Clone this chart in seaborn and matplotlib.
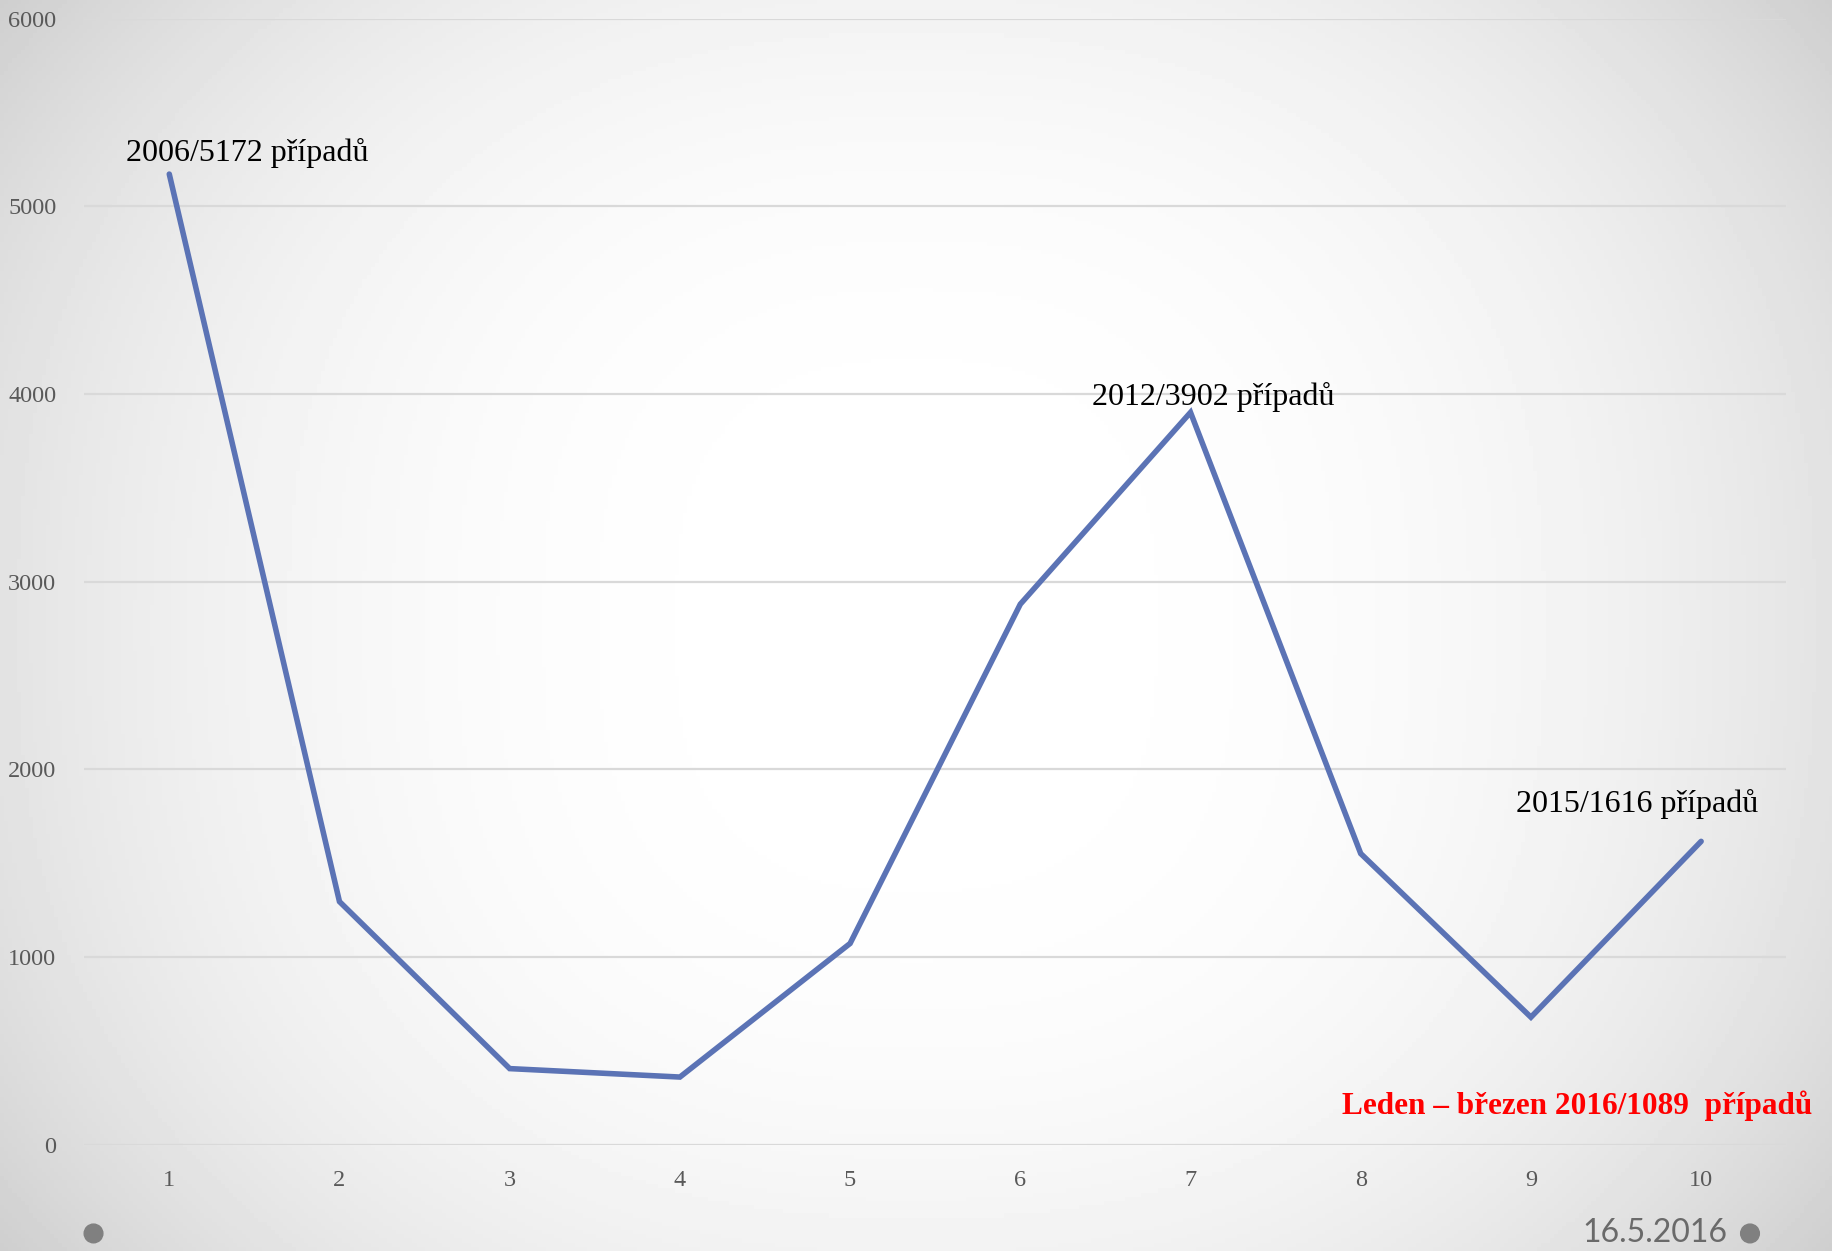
import numpy as np
import pandas as pd
import matplotlib
matplotlib.use("Agg")
import matplotlib.pyplot as plt
import seaborn as sns

# ---- data ----
positions = [1, 2, 3, 4, 5, 6, 7, 8, 9, 10]
cases = [5172, 1295, 405, 360, 1072, 2880, 3902, 1551, 679, 1616]
y_ticks = [0, 1000, 2000, 3000, 4000, 5000, 6000]
labels = ["2006/5172 případů", "2012/3902 případů", "2015/1616 případů"]
label_idx = [0, 6, 9]
label_offsets = [(78, 21), (23, 15), (-64, 37)]
footer_text = "Leden – březen 2016/1089  případů"
date_text = "16.5.2016"

df = pd.DataFrame({"pos": positions, "cases": cases})

sns.set_theme(style="white")
plt.rcParams["font.family"] = ["Liberation Serif", "DejaVu Serif"]

W, H = 1833, 1251
fig = plt.figure(figsize=(W / 100, H / 100), dpi=100)

# background gradient: white centre, grey towards the sides/corners
bg = fig.add_axes([0, 0, 1, 1], zorder=-10)
yy, xx = np.mgrid[0:1:300j, 0:1:440j]
dx = np.abs(xx - 0.5) / 0.5
dy = np.abs(yy - 0.5) / 0.5
val = 1.0 - 0.11 * dx ** 2.5 - 0.05 * dy ** 3 - 0.03 * (dx * dy) ** 2
bg.imshow(val, cmap="gray", vmin=0, vmax=1, aspect="auto", extent=[0, 1, 0, 1])
bg.axis("off")

ax = fig.add_axes([72 / 1568, 1 - 979 / 1070, (1528 - 72) / 1568, (979 - 16) / 1070])
ax.patch.set_alpha(0)

sns.lineplot(data=df, x="pos", y="cases", ax=ax, color="#5b73b5", linewidth=4.0,
             solid_capstyle="round", solid_joinstyle="miter")

ax.set_xlim(0.5, 10.5)
ax.set_ylim(0, 6000)
ax.set_xticks(positions)
ax.set_xticklabels([str(p) for p in positions])
ax.set_yticks(y_ticks)
ax.set_yticklabels([str(t) for t in y_ticks])
ax.set_xlabel("")
ax.set_ylabel("")
ax.grid(axis="y", color="#d9d9d9", linewidth=1.6)
ax.grid(axis="x", visible=False)
ax.set_axisbelow(True)
for s in ax.spines.values():
    s.set_visible(False)
ax.tick_params(axis="both", length=0, labelsize=17.5, colors="#595959")
ax.tick_params(axis="x", pad=18)
ax.tick_params(axis="y", pad=20)

for lab, i, (dx_, dy_) in zip(labels, label_idx, label_offsets):
    ax.annotate(lab, xy=(positions[i], cases[i]), xytext=(dx_, dy_),
                textcoords="offset pixels", ha="center", va="center",
                fontsize=23, color="black")

fig.text(1550 / 1568, 1 - 946 / 1070, footer_text, ha="right", va="center",
         fontsize=22.5, fontweight="bold", color="#ff0000")

fig.text(1478 / 1568, 1 - 1055 / 1070, date_text, ha="right", va="center",
         fontsize=23, color="#6a6a6a", family=["Lato", "DejaVu Sans"])
fig.patches.append(matplotlib.patches.Ellipse((80 / 1568, 1 - 1055 / 1070), 16 / 1568, 16 / 1070,
                   transform=fig.transFigure, color="#808080", figure=fig))
fig.patches.append(matplotlib.patches.Ellipse((1497 / 1568, 1 - 1055 / 1070), 16 / 1568, 16 / 1070,
                   transform=fig.transFigure, color="#808080", figure=fig))

fig.savefig("out.png", dpi=100)
